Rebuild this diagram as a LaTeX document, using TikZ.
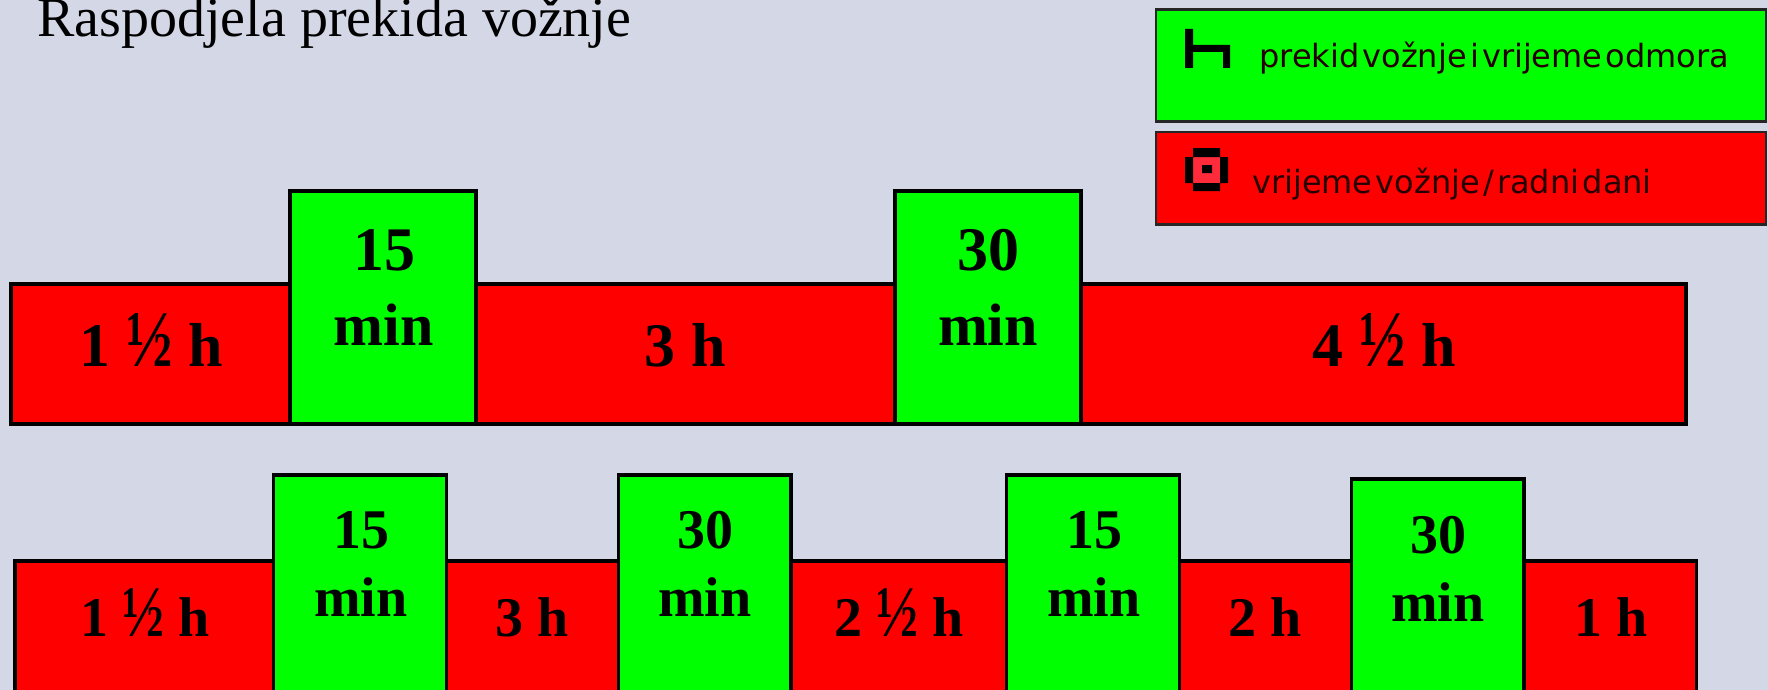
\documentclass[tikz,border=0pt]{standalone}
\usepackage{fontspec}
\usepackage{graphicx}
\setmainfont{Liberation Serif}
\newfontfamily\legendfont{DejaVu Sans}
\definecolor{bgc}{HTML}{D3D7E6}
\definecolor{gr}{HTML}{00FF00}
\definecolor{rd}{HTML}{FF0000}
\definecolor{ring}{HTML}{FF2A3A}
\newcommand{\legtxt}[1]{{\fontsize{32}{32}\legendfont\spaceskip=0.1em\relax #1}}
\newcommand{\hf}{\scalebox{1}[1.3]{½}}
\newcommand{\bx}[7]{% name, style, x1, y1, x2, y2, text
  \pgfmathsetmacro{\cxx}{(#3+#5)/2}\pgfmathsetmacro{\cyy}{(#4+#6)/2}
  \pgfmathsetmacro{\ww}{#5-#3}\pgfmathsetmacro{\hh}{#6-#4}
  \node[#2,minimum width=\ww pt,minimum height=\hh pt] (#1) at (\cxx,\cyy) {#7};}
\tikzset{
  x=1pt,y=-1pt,
  seg/.style={draw=black,line width=3.6pt,inner sep=0pt,outer sep=0pt,rectangle},
  redbox/.style={seg,fill=rd},
  greenbox/.style={seg,fill=gr},
  legbox/.style={draw=black!85,line width=2.6pt,inner sep=0pt,outer sep=0pt,rectangle},
  big/.style={font=\fontsize{62}{62}\selectfont\bfseries,inner sep=0pt,anchor=base},
  small/.style={font=\fontsize{56}{56}\selectfont\bfseries,inner sep=0pt,anchor=base},
  legtext/.style={inner sep=0pt,anchor=base west,text=black!85!red},
}
\begin{document}
\begin{tikzpicture}
\fill[bgc] (0,0) rectangle (1768,690);
\useasboundingbox (0,0) rectangle (1768,690);
\node[font=\fontsize{56}{56}\selectfont,inner sep=0pt,anchor=base west] (title) at (37,37) {Raspodjela prekida vožnje};
% legend
\bx{lg}{legbox,fill=gr}{1156}{9.5}{1766}{121.5}{}
\bx{lr}{legbox,fill=rd}{1156}{132}{1766}{224.5}{}
\fill[black] (1185,29) rectangle (1193,68) (1193,45) rectangle (1230,52) (1223,52) rectangle (1230,68);
\fill[ring] (1193,157) rectangle (1220,183);
\fill[black] (1193,148) rectangle (1220,157) (1193,183) rectangle (1220,191) (1185,157) rectangle (1193,183) (1220,157) rectangle (1228,183) (1202,165) rectangle (1212,173);
\node[legtext] (lgt) at (1259,68) {\legtxt{prekid vožnje i vrijeme odmora}};
\node[legtext] (lrt) at (1252,193) {\legtxt{vrijeme vožnje / radni dani}};
% row 1
\bx{a1}{redbox}{11}{284}{290}{424}{}
\bx{a3}{redbox}{476}{284}{895}{424}{}
\bx{a5}{redbox}{1081}{284}{1686}{424}{}
\bx{a2}{greenbox}{290}{191}{476}{424}{}
\bx{a4}{greenbox}{895}{191}{1081}{424}{}
\node[big] (ta1) at (151,366) {1 \hf\ h};
\node[big] (ta3) at (685,366) {3 h};
\node[big] (ta5) at (1384,366) {4 \hf\ h};
\node[big] (ta2a) at (384,270) {15};
\node[big,font=\fontsize{60}{60}\selectfont\bfseries] (ta2b) at (384,345) {min};
\node[big] (ta4a) at (988,270) {30};
\node[big,font=\fontsize{60}{60}\selectfont\bfseries] (ta4b) at (988,345) {min};
% row 2
\bx{b1}{redbox}{15}{561}{273.5}{694}{}
\bx{b3}{redbox}{446.5}{561}{618.5}{694}{}
\bx{b5}{redbox}{791}{561}{1006.5}{694}{}
\bx{b7}{redbox}{1179.5}{561}{1351.5}{694}{}
\bx{b9}{redbox}{1524}{561}{1696.5}{694}{}
\bx{b2}{greenbox}{273.5}{475}{446.5}{694}{}
\bx{b4}{greenbox}{618.5}{475}{791}{694}{}
\bx{b6}{greenbox}{1006.5}{475}{1179.5}{694}{}
\bx{b8}{greenbox}{1351.5}{479}{1524}{694}{}
\node[small] (tb1) at (145,636) {1 \hf\ h};
\node[small] (tb3) at (532,636) {3 h};
\node[small] (tb5) at (899,636) {2 \hf\ h};
\node[small] (tb7) at (1265,636) {2 h};
\node[small] (tb9) at (1611,636) {1 h};
\node[small] (tb2a) at (361,548) {15};
\node[small] (tb2b) at (361,616) {min};
\node[small] (tb4a) at (705,548) {30};
\node[small] (tb4b) at (705,616) {min};
\node[small] (tb6a) at (1094,548) {15};
\node[small] (tb6b) at (1094,616) {min};
\node[small] (tb8a) at (1438,553) {30};
\node[small] (tb8b) at (1438,621) {min};
\end{tikzpicture}
\end{document}
